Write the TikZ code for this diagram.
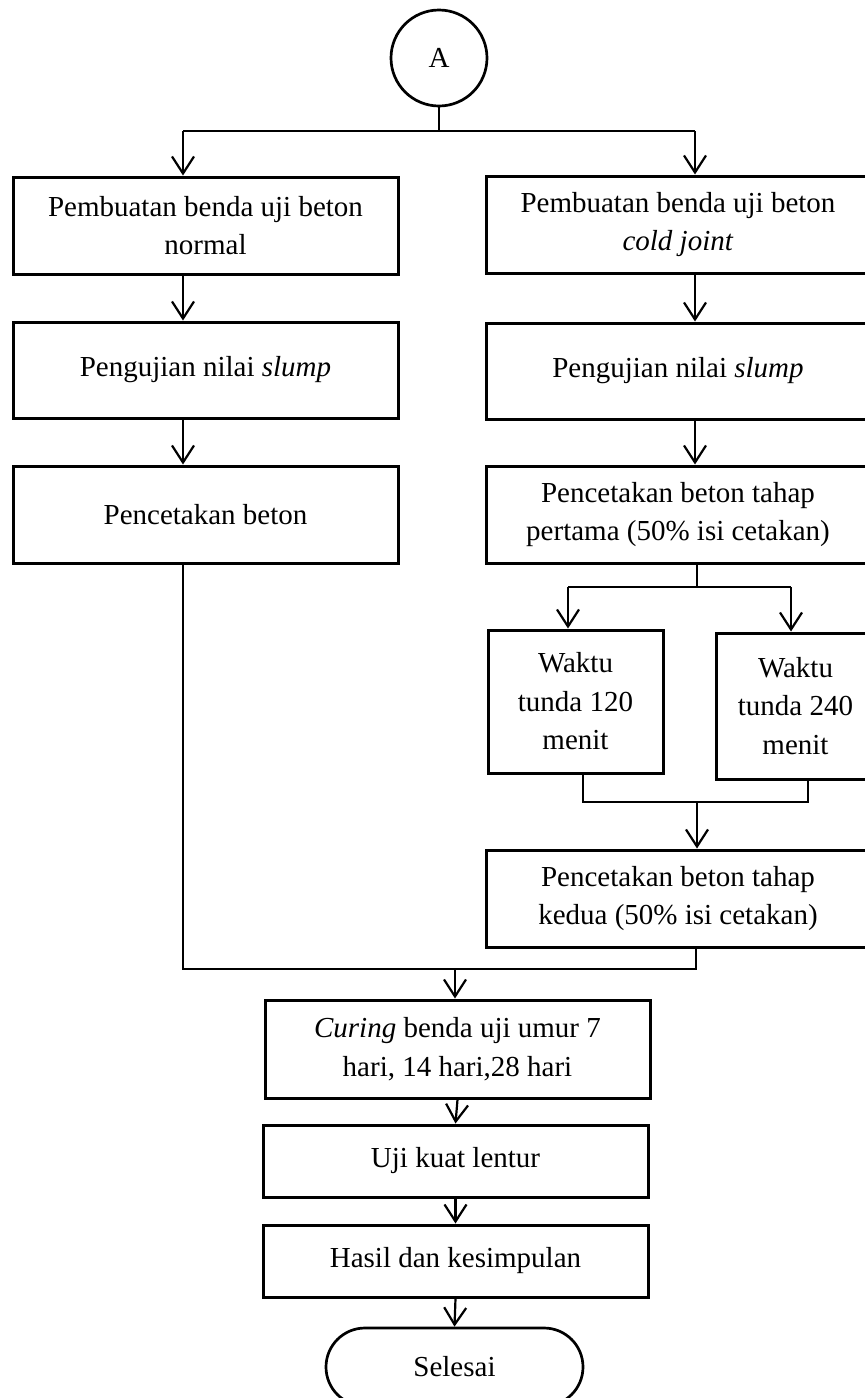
\documentclass[tikz,border=0pt]{standalone}
\usepackage{fontspec}
\setmainfont{Liberation Serif}
\usetikzlibrary{arrows.meta,shapes.misc}
\begin{document}
\begin{tikzpicture}[x=1pt,y=-1pt,
  box/.style={draw,line width=3pt,inner sep=0pt,align=center,font=\fontsize{29}{38.5}\selectfont},
  wide/.style={box,minimum width=385pt,minimum height=97pt},
  arr/.style={line width=2.2pt,-{Straight Barb[length=17pt,width=22pt,line width=2.2pt]}},
  ln/.style={line width=1.4pt}]
\useasboundingbox (0,0) rectangle (865,1398);
% nodes
\node[box,circle,line width=2.7pt,minimum size=96pt] (A) at (439,58) {A};
\node[wide] (L1) at (205.5,225.5) {Pembuatan benda uji beton\\normal};
\node[wide,minimum height=96pt] (L2) at (205.5,370) {Pengujian nilai \textit{slump}};
\node[wide] (L3) at (205.5,514.5) {Pencetakan beton};
\node[wide,minimum width=384pt] (R1) at (678,224.5) {Pembuatan benda uji beton\\\textit{cold joint}};
\node[wide,minimum width=384pt,minimum height=96pt] (R2) at (678,371) {Pengujian nilai \textit{slump}};
\node[wide,minimum width=384pt] (R3) at (678,514.5) {Pencetakan beton tahap\\pertama (50\% isi cetakan)};
\node[box,minimum width=175pt,minimum height=143pt] (W1) at (575.5,701.5) {Waktu\\tunda 120\\menit};
\node[box,minimum width=159pt,minimum height=146pt] (W2) at (795.5,706) {Waktu\\tunda 240\\menit};
\node[wide,minimum width=384pt] (R4) at (678,898.5) {Pencetakan beton tahap\\kedua (50\% isi cetakan)};
\node[wide,minimum height=98pt] (C) at (457.5,1049) {\textit{Curing} benda uji umur 7\\hari, 14 hari,28 hari};
\node[wide,minimum height=72pt] (U) at (455.5,1161) {Uji kuat lentur};
\node[wide,minimum height=72pt] (H) at (455.5,1261) {Hasil dan kesimpulan};
\node[box,rounded rectangle,line width=2.7pt,minimum width=257pt,minimum height=78pt] (S) at (454.5,1367) {Selesai};
% junction coordinates
\coordinate (jA) at (439,131);
\coordinate (jl) at (183,131);
\coordinate (jr) at (695,131);
\coordinate (sp) at (697,587);
\coordinate (spl) at (568,587);
\coordinate (spr) at (791,587);
\coordinate (ml) at (583,802);
\coordinate (mr) at (808,802);
\coordinate (mm) at (697,802);
\coordinate (bl) at (183,969);
\coordinate (br) at (696,969);
\coordinate (bm) at (455,969);
% connectors
\draw[ln] (A.south) -- (jA);
\draw[ln] (jl) -- (jr);
\draw[arr] (jl) -- (jl |- L1.north);
\draw[arr] (jr) -- (jr |- R1.north);
\draw[arr] (jl |- L1.south) -- (jl |- L2.north);
\draw[arr] (jl |- L2.south) -- (jl |- L3.north);
\draw[arr] (jr |- R1.south) -- (jr |- R2.north);
\draw[arr] (jr |- R2.south) -- (jr |- R3.north);
\draw[ln] (sp |- R3.south) -- (sp);
\draw[ln] (spl) -- (spr);
\draw[arr] (spl) -- (spl |- W1.north);
\draw[arr] (spr) -- (spr |- W2.north);
\draw[ln] (ml |- W1.south) -- (ml) -- (mr) -- (mr |- W2.south);
\draw[arr] (mm) -- (mm |- R4.north);
\draw[ln] (bl |- L3.south) -- (bl) -- (br) -- (br |- R4.south);
\draw[arr] (bm) -- (bm |- C.north);
\draw[arr] (C.south) -- (U.north);
\draw[arr] (U.south) -- (H.north);
\draw[arr] (H.south) -- (S.north);
\end{tikzpicture}
\end{document}
